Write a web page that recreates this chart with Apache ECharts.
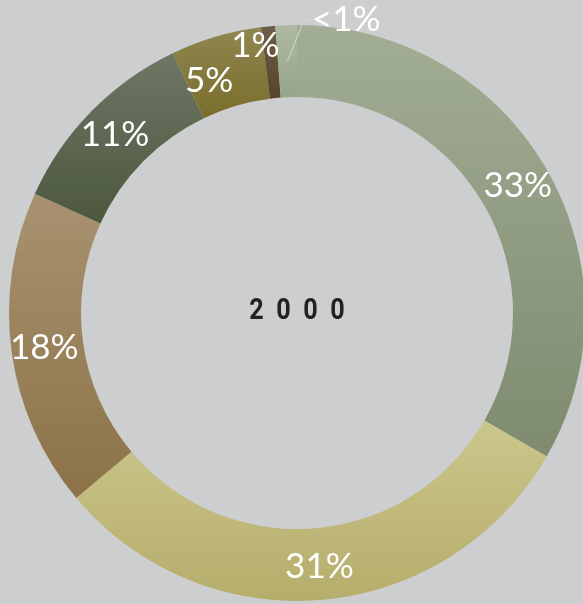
<!DOCTYPE html>
<html>
<head>
<meta charset="utf-8">
<script src="https://cdn.jsdelivr.net/npm/echarts@6/dist/echarts.min.js"></script>
<style>
  html, body { margin: 0; padding: 0; background: #cdced0; }
  #main { width: 583px; height: 604px; }
</style>
</head>
<body>
<div id="main"></div>
<script>
// share of each slice, clockwise from 12 o'clock
var values = [33.3, 30.6, 17.9, 11.1, 5.1, 0.8, 1.2]
var labels = ['33%', '31%', '18%', '11%', '5%', '1%', '<1%']
var topColors = ['#a2ad95', '#cbc68c', '#a89270', '#6f7665', '#8f8751', '#6e5d48', '#adb9a2']
var bottomColors = ['#7e8b6f', '#b6ad6b', '#8c7246', '#4c583e', '#7a6d2b', '#574529', '#98a58b']
var centerText = '2  0  0  0'

var chartDom = document.getElementById('main')
var myChart = echarts.init(chartDom)

var ringData = values.map(function (v, i) {
  var item = {
    value: v,
    name: labels[i],
    itemStyle: {
      color: new echarts.graphic.LinearGradient(0, 0, 0, 1, [
        { offset: 0, color: topColors[i] },
        { offset: 1, color: bottomColors[i] }
      ])
    }
  }
  // small slices: labels nudged like the original
  if (i === 4) item.label = { offset: [-16, 12] }
  if (i === 5) item.label = { offset: [-16, -14] }
  if (i === 6) item.label = { show: false }
  return item
})

// same slices again, invisible, only to carry the <1% callout from mid-ring
var calloutData = values.map(function (v, i) {
  return {
    value: v,
    name: labels[i],
    label: { show: i === 6 },
    labelLine: { show: i === 6 }
  }
})

var option = {
  backgroundColor: '#cdced0',
  animation: false,
  graphic: [
    {
      type: 'text',
      x: 297,
      y: 311,
      scaleX: 0.84,
      style: {
        text: centerText,
        font: 'bold 30px Roboto, sans-serif',
        fill: '#222222',
        align: 'center',
        verticalAlign: 'middle'
      }
    }
  ],
  series: [
    {
      type: 'pie',
      center: [297, 313],
      radius: [216, 288],
      startAngle: 90,
      clockwise: true,
      avoidLabelOverlap: false,
      itemStyle: { borderWidth: 0 },
      label: {
        show: true,
        position: 'inside',
        formatter: '{b}',
        color: '#ffffff',
        fontFamily: 'Lato',
        fontSize: 35
      },
      labelLine: { show: false },
      data: ringData
    },
    {
      type: 'pie',
      silent: true,
      z: 3,
      center: [297, 313],
      radius: [0, 252],
      startAngle: 90,
      clockwise: true,
      avoidLabelOverlap: false,
      itemStyle: { color: 'rgba(0,0,0,0)', borderWidth: 0 },
      label: {
        position: 'outside',
        formatter: '{b}',
        color: '#ffffff',
        fontFamily: 'Lato',
        fontSize: 35
      },
      labelLine: {
        length: 10,
        length2: 8,
        lineStyle: { color: '#d9dcc6', width: 1 }
      },
      labelLayout: function (params) {
        if (params.dataIndex === 6) {
          return { x: 312, y: 20, align: 'left', verticalAlign: 'middle' }
        }
      },
      data: calloutData
    }
  ]
}

option && myChart.setOption(option)
</script>
</body>
</html>
